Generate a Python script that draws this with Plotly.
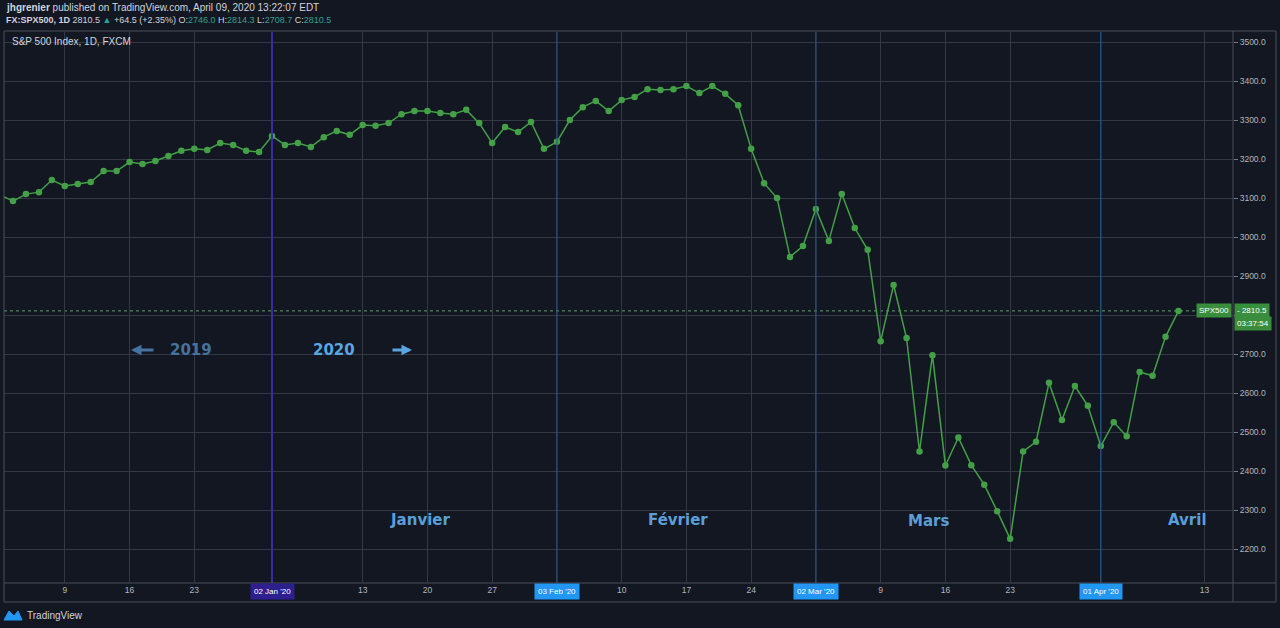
import plotly.graph_objects as go
import pandas as pd

# ---------------- data ----------------
dates = [
    "2019-12-02", "2019-12-03", "2019-12-04", "2019-12-05", "2019-12-06",
    "2019-12-09", "2019-12-10", "2019-12-11", "2019-12-12", "2019-12-13",
    "2019-12-16", "2019-12-17", "2019-12-18", "2019-12-19", "2019-12-20",
    "2019-12-23", "2019-12-24", "2019-12-26", "2019-12-27", "2019-12-30", "2019-12-31",
    "2020-01-02", "2020-01-03", "2020-01-06", "2020-01-07", "2020-01-08", "2020-01-09",
    "2020-01-10", "2020-01-13", "2020-01-14", "2020-01-15", "2020-01-16", "2020-01-17",
    "2020-01-20", "2020-01-21", "2020-01-22", "2020-01-23", "2020-01-24", "2020-01-27",
    "2020-01-28", "2020-01-29", "2020-01-30", "2020-01-31",
    "2020-02-03", "2020-02-04", "2020-02-05", "2020-02-06", "2020-02-07", "2020-02-10",
    "2020-02-11", "2020-02-12", "2020-02-13", "2020-02-14", "2020-02-17", "2020-02-18",
    "2020-02-19", "2020-02-20", "2020-02-21", "2020-02-24", "2020-02-25", "2020-02-26",
    "2020-02-27", "2020-02-28",
    "2020-03-02", "2020-03-03", "2020-03-04", "2020-03-05", "2020-03-06", "2020-03-09",
    "2020-03-10", "2020-03-11", "2020-03-12", "2020-03-13", "2020-03-16", "2020-03-17",
    "2020-03-18", "2020-03-19", "2020-03-20", "2020-03-23", "2020-03-24", "2020-03-25",
    "2020-03-26", "2020-03-27", "2020-03-30", "2020-03-31",
    "2020-04-01", "2020-04-02", "2020-04-03", "2020-04-06", "2020-04-07", "2020-04-08",
    "2020-04-09",
]

closes = [
    3108, 3092, 3110, 3115, 3146,
    3131, 3136, 3141, 3169, 3169,
    3192, 3187, 3195, 3208, 3221,
    3226, 3223, 3241, 3236, 3221, 3218,
    3259, 3236, 3241, 3231, 3256, 3272,
    3262, 3287, 3285, 3292, 3315, 3323,
    3323, 3318, 3315, 3326, 3292, 3241,
    3282, 3269, 3295, 3226,
    3244, 3300, 3333, 3349, 3323, 3351,
    3359, 3379, 3377, 3379, 3387, 3369,
    3387, 3367, 3338, 3226, 3138, 3100,
    2949, 2977,
    3072, 2990, 3110, 3023, 2967, 2733,
    2877, 2741, 2450, 2697, 2414, 2486,
    2415, 2365, 2297, 2226, 2450, 2475,
    2626, 2531, 2618, 2567,
    2464, 2525, 2489, 2654, 2644, 2744,
    2810.5,
]

tick_dates = ["2019-12-09", "2019-12-16", "2019-12-23", "2020-01-13", "2020-01-20",
              "2020-01-27", "2020-02-10", "2020-02-17", "2020-02-24", "2020-03-09",
              "2020-03-16", "2020-03-23", "2020-04-13"]
tick_labels = ["9", "16", "23", "13", "20", "27", "10", "17", "24", "9", "16", "23", "13"]

month_dates = ["2020-01-02", "2020-02-03", "2020-03-02", "2020-04-01"]
month_tags = ["02 Jan '20", "03 Feb '20", "02 Mar '20", "01 Apr '20"]
month_names = ["Janvier", "Février", "Mars", "Avril"]

price_ticks = [2200, 2300, 2400, 2500, 2600, 2700, 2800, 2900,
               3000, 3100, 3200, 3300, 3400, 3500]

# ---------------- helpers ----------------
def bar_index(d):
    if d in dates:
        return dates.index(d)
    extra = len(pd.bdate_range(pd.Timestamp(dates[-1]) + pd.Timedelta(days=1), d))
    return len(dates) - 1 + extra

x_idx = list(range(len(dates)))

L, R, T, B = 4, 1233, 32, 583
def px2x(px):
    return (px - L) / (R - L)
def py2y(py):
    return (B - py) / (B - T)

BG = "#131722"
GRID = "#343846"
TXT = "#b2b5be"
GREEN = "#43a047"
FONT = "Liberation Sans"

fig = go.Figure()
fig.add_trace(go.Scatter(
    x=x_idx, y=closes, mode="lines+markers",
    line=dict(color=GREEN, width=1.5),
    marker=dict(color=GREEN, size=6.5),
    hoverinfo="skip", showlegend=False,
))

shapes = []
# month start vertical lines
for i, d in enumerate(month_dates):
    xi = bar_index(d)
    if i == 0:
        col, w = "#3b2aa8", 2
    else:
        col, w = "#2a5b8c", 1.2
    shapes.append(dict(type="line", xref="x", yref="paper", x0=xi, x1=xi,
                       y0=0, y1=1, line=dict(color=col, width=w), layer="above"))
# last price dotted line
shapes.append(dict(type="line", xref="paper", yref="y", x0=0, x1=1,
                   y0=closes[-1], y1=closes[-1],
                   line=dict(color="#5e9f6c", width=1, dash="dot"), layer="below"))
# frame
FR = "#4a4e5a"
shapes.append(dict(type="rect", xref="paper", yref="paper", x0=0, x1=px2x(1276),
                   y0=py2y(602), y1=py2y(31), line=dict(color=FR, width=1)))
shapes.append(dict(type="line", xref="paper", yref="paper", x0=1, x1=1,
                   y0=py2y(602), y1=py2y(31), line=dict(color=FR, width=1)))
shapes.append(dict(type="line", xref="paper", yref="paper", x0=0, x1=px2x(1276),
                   y0=0, y1=0, line=dict(color=FR, width=1)))
# TradingView logo mark
logo = ("M {0} {1} L {2} {3} L {4} {5} L {6} {7} L {8} {9} L {10} {11} Z").format(
    px2x(4), py2y(620), px2x(9), py2y(611), px2x(14), py2y(616),
    px2x(18), py2y(611), px2x(22), py2y(620), px2x(4), py2y(620))
shapes.append(dict(type="path", xref="paper", yref="paper", path=logo,
                   fillcolor="#2196f3", line=dict(color="#2196f3", width=1)))

ann = []
# header
ann.append(dict(xref="paper", yref="paper", x=px2x(4), y=py2y(8), xanchor="left",
                yanchor="middle", showarrow=False,
                text="<b>jhgrenier</b> published on TradingView.com, April 09, 2020 13:22:07 EDT",
                font=dict(family=FONT, size=10, color="#d1d4dc")))
teal = "#3a9e8c"
hdr2 = ("<b>FX:SPX500, 1D</b> 2810.5 <span style='color:#26a69a'>▲</span> +64.5 (+2.35%) "
        "O:<span style='color:" + teal + "'>2746.0</span> H:<span style='color:" + teal + "'>2814.3</span> "
        "L:<span style='color:" + teal + "'>2708.7</span> C:<span style='color:" + teal + "'>2810.5</span>")
ann.append(dict(xref="paper", yref="paper", x=px2x(4), y=py2y(20), xanchor="left",
                yanchor="middle", showarrow=False, text=hdr2,
                font=dict(family=FONT, size=9, color="#d1d4dc")))
ann.append(dict(xref="paper", yref="paper", x=px2x(10), y=py2y(42), xanchor="left",
                yanchor="middle", showarrow=False, text="S&P 500 Index, 1D, FXCM",
                font=dict(family=FONT, size=10, color="#d1d4dc")))
# bottom logo text
ann.append(dict(xref="paper", yref="paper", x=px2x(25), y=py2y(615), xanchor="left",
                yanchor="middle", showarrow=False, text="TradingView",
                font=dict(family=FONT, size=10, color="#d1d4dc")))

# month tag boxes on time axis
for i, (d, t) in enumerate(zip(month_dates, month_tags)):
    bg = "#2e1f8f" if i == 0 else "#2196f3"
    ann.append(dict(xref="x", yref="paper", x=bar_index(d), y=py2y(591),
                    xanchor="center", yanchor="middle", showarrow=False, text=t,
                    bgcolor=bg, borderpad=3,
                    font=dict(family=FONT, size=8, color="#ffffff")))

# month names
bold = "DejaVu Sans"
mcol = "#5a9fd8"
for name, cx, cy in zip(month_names, [420, 678, 928, 1187], [520, 520, 521, 520]):
    ann.append(dict(xref="paper", yref="paper", x=px2x(cx), y=py2y(cy),
                    xanchor="center", yanchor="middle", showarrow=False,
                    text="<b>" + name + "</b>", font=dict(family=bold, size=15, color=mcol)))

# 2019 / 2020 labels with arrows
c19 = "#46729e"
c20 = "#5aa6e2"
ann.append(dict(xref="paper", yref="paper", x=px2x(191), y=py2y(350), xanchor="center",
                yanchor="middle", showarrow=False, text="<b>2019</b>",
                font=dict(family=bold, size=15, color=c19)))
ann.append(dict(xref="paper", yref="paper", x=px2x(131), y=py2y(350), text="",
                showarrow=True, ax=24, ay=0, arrowhead=2, arrowsize=0.7, arrowwidth=3,
                arrowcolor=c19))
ann.append(dict(xref="paper", yref="paper", x=px2x(334), y=py2y(350), xanchor="center",
                yanchor="middle", showarrow=False, text="<b>2020</b>",
                font=dict(family=bold, size=15, color=c20)))
ann.append(dict(xref="paper", yref="paper", x=px2x(412), y=py2y(350), text="",
                showarrow=True, ax=-21, ay=0, arrowhead=2, arrowsize=0.7, arrowwidth=3,
                arrowcolor=c20))

# last price tags
tagc = "#388e3c"
ann.append(dict(xref="paper", yref="y", x=px2x(1232), y=closes[-1], xanchor="right",
                yanchor="middle", showarrow=False, text="SPX500", bgcolor=tagc,
                borderpad=2, font=dict(family=FONT, size=8, color="#ffffff")))
ann.append(dict(xref="paper", yref="y", x=px2x(1234), y=closes[-1], xanchor="left",
                yanchor="middle", showarrow=False, text="- " + format(closes[-1], ".1f"),
                bgcolor=tagc, borderpad=2, font=dict(family=FONT, size=8, color="#ffffff")))
ann.append(dict(xref="paper", yref="y", x=px2x(1234), y=closes[-1], yshift=-13,
                xanchor="left", yanchor="middle", showarrow=False, text="03:37:54",
                bgcolor=tagc, borderpad=2, font=dict(family=FONT, size=8, color="#ffffff")))

# axis ranges from pixel geometry
px_per_bar = 12.95
j0 = bar_index("2020-01-02")
x_range = [j0 - (272 - L) / px_per_bar, j0 + (R - 272) / px_per_bar]
px_per_pt = 0.39
y_range = [3500 - (B - 42) / px_per_pt, 3500 + (42 - T) / px_per_pt]

fig.update_layout(
    width=1280, height=628,
    margin=dict(l=L, r=1280 - R, t=T, b=628 - B),
    paper_bgcolor=BG, plot_bgcolor=BG,
    shapes=shapes, annotations=ann,
    showlegend=False,
    xaxis=dict(range=x_range, tickvals=[bar_index(d) for d in tick_dates],
               ticktext=tick_labels, showgrid=True, gridcolor=GRID, gridwidth=1,
               zeroline=False, showline=False, ticks="", fixedrange=True,
               tickfont=dict(family=FONT, size=8.5, color=TXT)),
    yaxis=dict(range=y_range, side="right", tickvals=price_ticks,
               ticktext=["" if v == 2800 else format(v, ".1f") for v in price_ticks],
               showgrid=True, gridcolor=GRID, gridwidth=1, zeroline=False,
               showline=False, ticks="outside", ticklen=4, tickcolor="#787b86",
               fixedrange=True,
               tickfont=dict(family=FONT, size=8.5, color=TXT)),
)

fig.write_html("out.html",
               config={"displayModeBar": False},
               post_script="document.body.style.margin='0';document.body.style.background='#131722';")
